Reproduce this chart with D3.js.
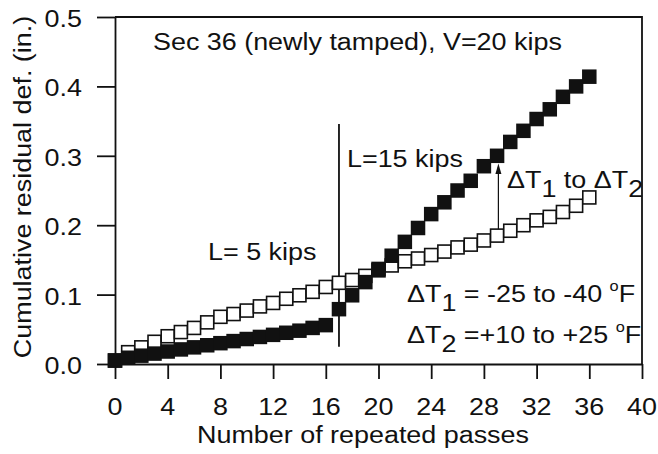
<!DOCTYPE html>
<html>
<head>
<meta charset="utf-8">
<script src="https://cdn.jsdelivr.net/npm/d3@7"></script>
<style>
  body { margin: 0; background: #fff; }
  text { font-family: "Liberation Sans", Arial, sans-serif; fill: #111; }
</style>
</head>
<body>
<svg id="chart"></svg>
<script>
var width = 658; var height = 454

// passes and residual deformation (in.)
var passes = [0, 1, 2, 3, 4, 5, 6, 7, 8, 9, 10, 11, 12, 13, 14, 15, 16, 17, 18,
  19, 20, 21, 22, 23, 24, 25, 26, 27, 28, 29, 30, 31, 32, 33, 34, 35, 36]
var loadedDef = [0.005, 0.009, 0.012, 0.015, 0.018, 0.021, 0.024, 0.027, 0.030,
  0.033, 0.036, 0.039, 0.042, 0.045, 0.048, 0.052, 0.056, 0.079, 0.099, 0.118,
  0.137, 0.156, 0.176, 0.196, 0.216, 0.233, 0.250, 0.264, 0.285, 0.300, 0.320,
  0.336, 0.353, 0.367, 0.385, 0.400, 0.414]
var tempDef = [0.005, 0.017, 0.024, 0.032, 0.040, 0.046, 0.052, 0.060, 0.068,
  0.072, 0.077, 0.083, 0.088, 0.094, 0.099, 0.104, 0.111, 0.117, 0.121, 0.127,
  0.135, 0.142, 0.148, 0.152, 0.157, 0.162, 0.168, 0.172, 0.178, 0.185, 0.192,
  0.200, 0.207, 0.212, 0.219, 0.228, 0.240]

var xTicks = [0, 4, 8, 12, 16, 20, 24, 28, 32, 36, 40]
var yTicks = [0.0, 0.1, 0.2, 0.3, 0.4, 0.5]

var fs = 23; var stretch = 1.17

var svg = d3.select('#chart')
  .attr('width', width)
  .attr('height', height)

const x = d3.scaleLinear()
  .domain([0, 40])
  .range([115, 642])

const y = d3.scaleLinear()
  .domain([0, 0.5])
  .range([364, 17])

// axes (outward ticks) + frame
svg.append('g')
  .attr('transform', 'translate(0,' + y(0) + ')')
  .call(d3.axisBottom(x).tickValues(xTicks).tickSize(15).tickSizeOuter(0).tickFormat(''))
  .call(g => g.selectAll('line, path').attr('stroke', '#111').attr('stroke-width', 1.8))

svg.append('g')
  .attr('transform', 'translate(' + x(0) + ',0)')
  .call(d3.axisLeft(y).tickValues(yTicks).tickSize(18).tickSizeOuter(0).tickFormat(''))
  .call(g => g.selectAll('line, path').attr('stroke', '#111').attr('stroke-width', 1.8))

svg.append('path')
  .attr('d', 'M' + x(0) + ',' + y(0.5) + 'H' + x(40) + 'V' + y(0))
  .attr('fill', 'none')
  .attr('stroke', '#111')
  .attr('stroke-width', 1.8)

// stretched text helper
function label (tx, ty, str, anchor, rot) {
  var t = svg.append('text')
    .attr('font-size', fs)
    .attr('text-anchor', anchor || 'start')
    .attr('transform', 'translate(' + tx + ',' + ty + ')' + (rot ? ' rotate(' + rot + ')' : '') + ' scale(' + stretch + ',1)')
  if (typeof str === 'string') t.text(str)
  else str.forEach(p => {
    t.append('tspan').attr('dy', p.dy || 0).attr('font-size', p.size || fs).text(p.t)
  })
  return t
}

xTicks.forEach(d => label(x(d), 415, String(d), 'middle'))
yTicks.forEach(d => label(82, y(d) + 10, d.toFixed(1), 'end'))

label(363, 443, 'Number of repeated passes', 'middle')
label(31, 187, 'Cumulative residual def. (in.)', 'middle', -90)

label(153, 50, 'Sec 36 (newly tamped), V=20 kips')
label(208, 260, 'L= 5 kips')
label(347, 167, 'L=15 kips')
label(507, 188, [{ t: '\u0394T' }, { t: '1', dy: 9 }, { t: ' to \u0394T', dy: -9 }, { t: '2', dy: 9 }])
label(407, 302, [{ t: '\u0394T' }, { t: '1', dy: 9 }, { t: ' = -25 to -40 ', dy: -9 }, { t: 'o', dy: -11, size: 14 }, { t: 'F', dy: 11 }])
label(407, 343, [{ t: '\u0394T' }, { t: '2', dy: 9 }, { t: ' =+10 to +25 ', dy: -9 }, { t: 'o', dy: -11, size: 14 }, { t: 'F', dy: 11 }])

// load change line at pass 17
svg.append('line')
  .attr('x1', x(17)).attr('x2', x(17))
  .attr('y1', y(0.025)).attr('y2', y(0.346))
  .attr('stroke', '#111').attr('stroke-width', 1.8)

// arrow at pass 29
svg.append('line')
  .attr('x1', x(29.1)).attr('x2', x(29.1))
  .attr('y1', y(0.188)).attr('y2', y(0.284))
  .attr('stroke', '#111').attr('stroke-width', 1.2)
svg.append('path')
  .attr('d', 'M' + (x(29.1) - 3) + ',' + (y(0.284) + 7) + 'L' + x(29.1) + ',' + y(0.289) + 'L' + (x(29.1) + 3) + ',' + (y(0.284) + 7) + 'Z')
  .attr('fill', '#111')

var so = 13; var sf = 14.5

svg.selectAll('rect.open')
  .data(passes)
  .enter().append('rect')
  .attr('class', 'open')
  .attr('x', d => x(d) - so / 2)
  .attr('y', (d, i) => y(tempDef[i]) - so / 2)
  .attr('width', so)
  .attr('height', so)
  .attr('fill', '#fff')
  .attr('stroke', '#111')
  .attr('stroke-width', 1.6)

svg.selectAll('rect.filled')
  .data(passes)
  .enter().append('rect')
  .attr('class', 'filled')
  .attr('x', d => x(d) - sf / 2)
  .attr('y', (d, i) => y(loadedDef[i]) - sf / 2)
  .attr('width', sf)
  .attr('height', sf)
  .attr('fill', '#111')
</script>
</body>
</html>
